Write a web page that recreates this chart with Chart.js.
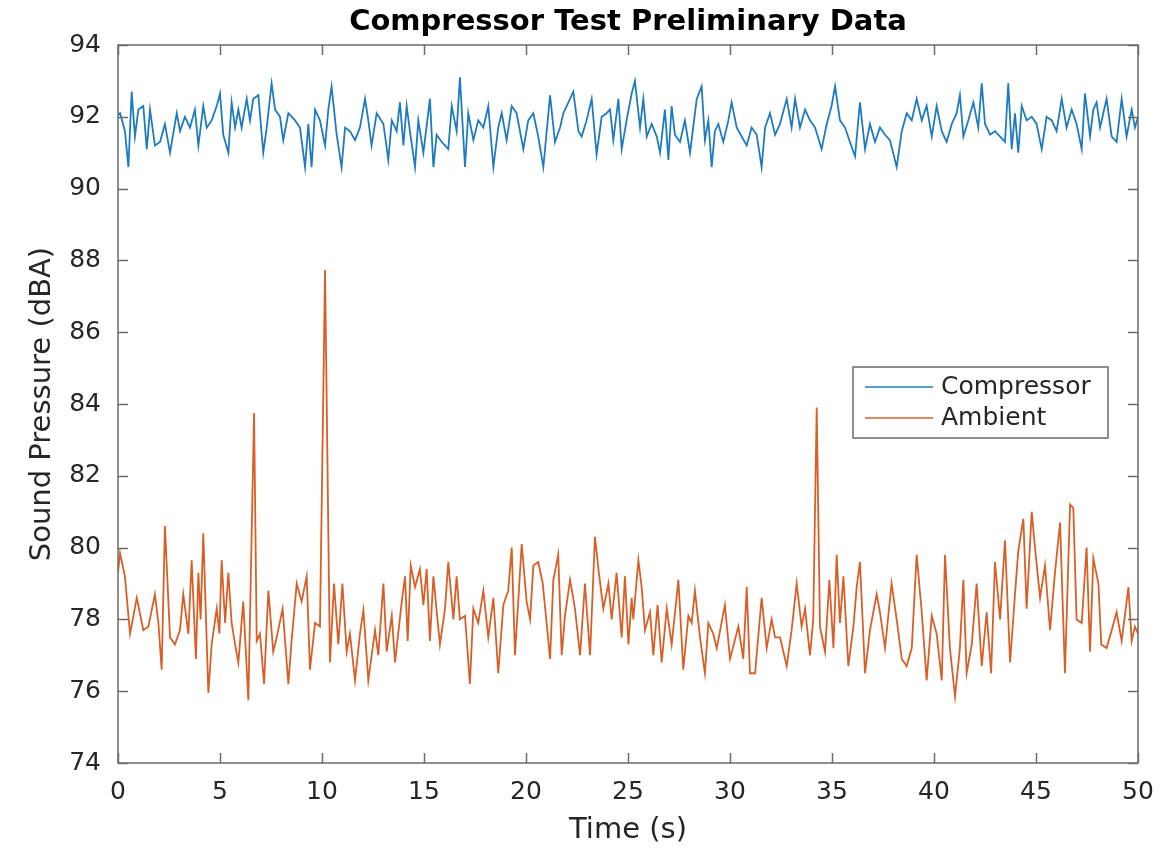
<!DOCTYPE html>
<html>
<head>
<meta charset="utf-8">
<title>Compressor Test Preliminary Data</title>
<script src="https://cdn.jsdelivr.net/npm/chart.js@4"></script>
<style>
  html, body { margin: 0; padding: 0; background: #fff; }
  #wrap { width: 1168px; height: 851px; }
</style>
</head>
<body>
<div id="wrap"><canvas id="chart" width="1168" height="851"></canvas></div>
<script>
// Data
const chartTitle = 'Compressor Test Preliminary Data';
const timeTicks = [0, 5, 10, 15, 20, 25, 30, 35, 40, 45, 50];
const pressureTicks = [74, 76, 78, 80, 82, 84, 86, 88, 90, 92, 94];

const compressorTime = [
    0, 0.10, 0.34, 0.51, 0.67, 0.83, 1.00, 1.24, 1.41, 1.57,
    1.81, 2.06, 2.30, 2.55, 2.88, 3.04, 3.28, 3.53, 3.77, 3.94,
    4.18, 4.35, 4.59, 4.84, 5.00, 5.16, 5.41, 5.57, 5.74, 5.90,
    6.06, 6.31, 6.47, 6.63, 6.88, 7.12, 7.29, 7.53, 7.70, 7.94,
    8.10, 8.35, 8.68, 8.92, 9.17, 9.33, 9.49, 9.66, 9.90, 10.15,
    10.31, 10.47, 10.72, 10.96, 11.13, 11.37, 11.62, 11.86, 12.11, 12.27,
    12.43, 12.68, 13.01, 13.25, 13.42, 13.66, 13.82, 13.99, 14.15, 14.31,
    14.56, 14.72, 14.97, 15.29, 15.46, 15.62, 15.87, 16.19, 16.36, 16.60,
    16.76, 17.01, 17.17, 17.42, 17.66, 17.91, 18.15, 18.40, 18.64, 18.81,
    19.05, 19.30, 19.54, 19.87, 20.11, 20.36, 20.60, 20.85, 21.18, 21.42,
    21.67, 21.83, 22.08, 22.32, 22.57, 22.73, 22.97, 23.22, 23.46, 23.71,
    23.95, 24.12, 24.28, 24.53, 24.69, 24.93, 25.18, 25.34, 25.59, 25.75,
    25.92, 26.16, 26.41, 26.57, 26.81, 26.98, 27.14, 27.30, 27.55, 27.79,
    28.04, 28.37, 28.61, 28.77, 28.94, 29.10, 29.26, 29.43, 29.67, 29.92,
    30.08, 30.33, 30.57, 30.82, 31.06, 31.31, 31.55, 31.72, 31.96, 32.21,
    32.45, 32.78, 33.02, 33.19, 33.43, 33.68, 33.92, 34.17, 34.49, 34.74,
    34.98, 35.15, 35.39, 35.64, 35.88, 36.13, 36.37, 36.62, 36.86, 37.11,
    37.35, 37.60, 37.84, 38.17, 38.42, 38.66, 38.91, 39.15, 39.40, 39.64,
    39.89, 40.13, 40.38, 40.62, 40.87, 41.11, 41.27, 41.44, 41.68, 41.93,
    42.17, 42.34, 42.50, 42.75, 42.99, 43.24, 43.48, 43.64, 43.81, 43.97,
    44.13, 44.30, 44.54, 44.79, 45.03, 45.28, 45.52, 45.77, 46.01, 46.26,
    46.50, 46.75, 46.99, 47.24, 47.40, 47.65, 47.81, 47.97, 48.14, 48.46,
    48.71, 48.95, 49.20, 49.44, 49.69, 49.85, 50.00
];
const compressorLevel = [
    92.05, 92.1, 91.6, 90.6, 92.7, 91.45, 92.2, 92.3, 91.1, 92.2,
    91.2, 91.3, 91.8, 91.0, 92.1, 91.6, 92.0, 91.7, 92.2, 91.2,
    92.3, 91.7, 91.9, 92.3, 92.65, 91.5, 91.0, 92.4, 91.7, 92.2,
    91.7, 92.5, 91.9, 92.5, 92.6, 91.0, 91.7, 92.93, 92.2, 92.0,
    91.35, 92.1, 91.9, 91.7, 90.6, 91.8, 90.6, 92.2, 91.9, 91.2,
    92.2, 92.84, 91.5, 90.6, 91.7, 91.6, 91.35, 91.7, 92.5, 91.9,
    91.2, 92.1, 91.8, 90.8, 91.9, 91.6, 92.4, 91.2, 92.3, 91.6,
    90.6, 91.9, 91.0, 92.5, 90.6, 91.5, 91.3, 91.1, 92.3, 91.6,
    93.1, 90.6, 92.1, 91.35, 91.9, 91.7, 92.3, 90.6, 91.7, 92.1,
    91.35, 92.3, 92.1, 91.1, 91.9, 92.1, 91.45, 90.6, 92.6, 91.3,
    91.7, 92.1, 92.4, 92.7, 91.6, 91.45, 91.9, 92.5, 90.95, 92.0,
    92.1, 92.2, 91.35, 92.5, 91.1, 91.9, 92.65, 93.0, 91.7, 92.5,
    91.45, 91.8, 91.45, 91.0, 92.2, 90.8, 92.3, 91.5, 91.3, 91.9,
    91.0, 92.5, 92.85, 91.35, 91.9, 90.6, 91.6, 91.8, 91.3, 91.9,
    92.4, 91.7, 91.45, 91.2, 91.7, 91.5, 90.6, 91.7, 92.1, 91.5,
    91.8, 92.5, 91.7, 92.5, 91.7, 92.2, 91.9, 91.7, 91.1, 91.8,
    92.3, 92.85, 91.9, 91.7, 91.3, 90.9, 92.4, 91.1, 91.8, 91.3,
    91.7, 91.5, 91.35, 90.6, 91.6, 92.1, 91.9, 92.5, 91.9, 92.3,
    91.45, 92.3, 91.6, 91.3, 91.8, 92.1, 92.6, 91.45, 91.9, 92.4,
    91.7, 92.93, 91.8, 91.5, 91.6, 91.45, 91.3, 92.93, 91.1, 92.1,
    91.0, 92.3, 91.9, 92.0, 91.8, 91.1, 92.0, 91.9, 91.6, 92.5,
    91.7, 92.2, 91.8, 91.1, 92.65, 91.45, 92.2, 92.4, 91.7, 92.5,
    91.45, 91.3, 92.5, 91.45, 92.2, 91.7, 92.0
];

const ambientTime = [
    0, 0.10, 0.34, 0.59, 0.92, 1.24, 1.49, 1.81, 1.98, 2.14,
    2.30, 2.55, 2.79, 3.04, 3.20, 3.45, 3.61, 3.82, 3.94, 4.05,
    4.18, 4.43, 4.59, 4.84, 4.97, 5.08, 5.25, 5.41, 5.57, 5.74,
    5.90, 6.14, 6.39, 6.67, 6.80, 6.96, 7.16, 7.37, 7.61, 7.78,
    8.07, 8.35, 8.51, 8.76, 9.00, 9.25, 9.41, 9.66, 9.90, 10.15,
    10.39, 10.59, 10.80, 11.00, 11.21, 11.37, 11.62, 11.86, 12.03, 12.27,
    12.60, 12.76, 13.01, 13.17, 13.42, 13.58, 13.91, 14.07, 14.20, 14.35,
    14.56, 14.80, 14.97, 15.13, 15.29, 15.46, 15.78, 16.03, 16.19, 16.44,
    16.60, 16.76, 17.01, 17.25, 17.42, 17.66, 17.91, 18.15, 18.40, 18.64,
    18.89, 19.13, 19.30, 19.46, 19.79, 20.03, 20.20, 20.36, 20.60, 20.82,
    21.01, 21.18, 21.34, 21.58, 21.75, 21.91, 22.16, 22.40, 22.65, 22.89,
    23.14, 23.38, 23.55, 23.79, 24.04, 24.20, 24.44, 24.69, 24.85, 25.02,
    25.18, 25.26, 25.51, 25.67, 25.83, 26.08, 26.24, 26.45, 26.65, 26.90,
    27.14, 27.47, 27.71, 27.96, 28.12, 28.28, 28.53, 28.77, 28.94, 29.18,
    29.35, 29.75, 30.00, 30.41, 30.65, 30.82, 30.98, 31.23, 31.55, 31.80,
    32.04, 32.21, 32.45, 32.78, 33.02, 33.27, 33.51, 33.68, 33.92, 34.08,
    34.25, 34.41, 34.66, 34.87, 35.07, 35.23, 35.39, 35.56, 35.80, 36.05,
    36.21, 36.37, 36.62, 36.86, 37.19, 37.35, 37.60, 37.92, 38.17, 38.42,
    38.66, 38.91, 39.15, 39.40, 39.64, 39.89, 40.13, 40.38, 40.54, 40.78,
    41.03, 41.27, 41.44, 41.60, 41.85, 42.09, 42.34, 42.58, 42.80, 42.99,
    43.24, 43.48, 43.73, 43.97, 44.13, 44.38, 44.54, 44.79, 44.95, 45.20,
    45.44, 45.69, 45.93, 46.18, 46.42, 46.67, 46.83, 46.99, 47.24, 47.48,
    47.65, 47.81, 48.06, 48.20, 48.46, 48.71, 48.95, 49.20, 49.53, 49.69,
    49.85, 50.00
];
const ambientLevel = [
    79.3, 79.85, 79.2, 77.6, 78.6, 77.7, 77.8, 78.7, 77.9, 76.6,
    80.6, 77.5, 77.3, 77.7, 78.7, 77.6, 79.65, 76.9, 79.3, 78.0,
    80.4, 75.95, 77.3, 78.3, 77.6, 79.65, 77.9, 79.3, 77.9, 77.3,
    76.8, 78.5, 75.75, 83.75, 77.4, 77.6, 76.2, 78.8, 77.1, 77.5,
    78.3, 76.2, 77.4, 79.0, 78.5, 79.2, 76.6, 77.9, 77.8, 87.73,
    76.8, 79.0, 77.3, 79.0, 77.1, 77.6, 76.3, 77.6, 78.26, 76.3,
    77.7, 77.0, 79.0, 77.1, 78.1, 76.8, 78.5, 79.2, 77.4, 79.5,
    78.9, 79.4, 78.4, 79.4, 77.4, 79.2, 77.3, 78.3, 79.6, 78.0,
    79.2, 78.0, 78.1, 76.2, 78.3, 77.9, 78.8, 77.5, 78.6, 76.5,
    78.4, 78.8, 80.0, 77.0, 80.1, 78.5, 78.0, 79.5, 79.6, 79.0,
    77.9, 76.9, 79.1, 79.8, 77.0, 78.1, 79.1, 78.3, 77.0, 79.0,
    77.0, 80.3, 79.4, 78.3, 79.0, 78.0, 79.3, 77.5, 79.2, 77.3,
    78.6, 78.0, 79.65, 78.9, 77.7, 78.2, 77.0, 78.4, 76.8, 78.3,
    77.3, 79.1, 76.6, 78.1, 77.9, 78.8, 77.5, 76.5, 77.9, 77.6,
    77.2, 78.4, 76.9, 77.8, 76.9, 78.9, 76.5, 76.5, 78.6, 77.2,
    78.0, 77.5, 77.5, 76.7, 77.7, 79.0, 77.8, 78.3, 77.0, 78.0,
    83.9, 77.8, 77.1, 79.1, 77.2, 79.8, 77.9, 79.2, 76.7, 77.8,
    78.9, 79.6, 76.5, 77.7, 78.7, 78.2, 77.2, 79.0, 78.0, 76.9,
    76.7, 77.2, 79.8, 78.2, 76.3, 78.1, 77.6, 76.3, 79.8, 77.2,
    75.85, 77.2, 79.1, 76.5, 77.3, 79.0, 76.7, 78.2, 76.5, 79.6,
    78.0, 80.2, 76.8, 78.7, 79.9, 80.8, 78.3, 81.0, 80.0, 78.6,
    79.5, 77.7, 79.3, 80.7, 76.5, 81.2, 81.1, 78.0, 77.9, 80.0,
    77.1, 79.7, 79.0, 77.3, 77.2, 77.7, 78.2, 77.4, 78.9, 77.4,
    77.8, 77.6
];

// Styling
const fontFamily = "'DejaVu Sans', 'Liberation Sans', sans-serif";
const textColor = '#262626';
const axisColor = '#6b6b6b';
const compressorColor = '#1f7bbf';
const ambientColor = '#d95f26';
const tickLen = 10;

function toPoints(times, levels) {
    return times.map((t, i) => ({ x: t, y: levels[i] }));
}

// MATLAB-style box with inward ticks on all four sides, title over the axes, legend
const matlabAxes = {
    id: 'matlabAxes',
    afterDatasetsDraw(chart) {
        const { ctx, chartArea: a, scales: { x, y } } = chart;
        ctx.save();
        ctx.strokeStyle = axisColor;
        ctx.lineWidth = 1.5;
        ctx.strokeRect(a.left, a.top, a.right - a.left, a.bottom - a.top);

        ctx.beginPath();
        timeTicks.forEach(t => {
            const px = Math.round(x.getPixelForValue(t)) + 0.5;
            ctx.moveTo(px, a.bottom); ctx.lineTo(px, a.bottom - tickLen);
            ctx.moveTo(px, a.top); ctx.lineTo(px, a.top + tickLen);
        });
        pressureTicks.forEach(v => {
            const py = Math.round(y.getPixelForValue(v)) + 0.5;
            ctx.moveTo(a.left, py); ctx.lineTo(a.left + tickLen, py);
            ctx.moveTo(a.right, py); ctx.lineTo(a.right - tickLen, py);
        });
        ctx.stroke();

        // title, centred over the axes like MATLAB does
        ctx.fillStyle = '#000';
        ctx.font = 'bold 29px ' + fontFamily;
        ctx.textAlign = 'center';
        ctx.textBaseline = 'middle';
        ctx.fillText(chartTitle, (a.left + a.right) / 2, 22);

        // legend box
        const boxLeft = a.right - 285, boxTop = a.top + 322;
        const boxW = 255, boxH = 71;
        ctx.fillStyle = '#fff';
        ctx.fillRect(boxLeft, boxTop, boxW, boxH);
        ctx.lineWidth = 1.5;
        ctx.strokeStyle = axisColor;
        ctx.strokeRect(boxLeft, boxTop, boxW, boxH);

        ctx.font = '25px ' + fontFamily;
        ctx.textBaseline = 'middle';
        ctx.textAlign = 'left';
        chart.data.datasets.forEach((ds, i) => {
            const ly = boxTop + 20 + i * 31;
            ctx.strokeStyle = ds.borderColor;
            ctx.lineWidth = 1.6;
            ctx.beginPath();
            ctx.moveTo(boxLeft + 12, ly);
            ctx.lineTo(boxLeft + 80, ly);
            ctx.stroke();
            ctx.fillStyle = textColor;
            ctx.fillText(ds.label, boxLeft + 88, ly);
        });
        ctx.restore();
    }
};

const chart = new Chart(document.getElementById('chart'), {
    type: 'line',
    data: {
        datasets: [
            {
                label: 'Compressor',
                data: toPoints(compressorTime, compressorLevel),
                borderColor: compressorColor,
                borderWidth: 1.8,
                pointRadius: 0,
                tension: 0,
                fill: false
            },
            {
                label: 'Ambient',
                data: toPoints(ambientTime, ambientLevel),
                borderColor: ambientColor,
                borderWidth: 1.8,
                pointRadius: 0,
                tension: 0,
                fill: false
            }
        ]
    },
    options: {
        responsive: false,
        animation: false,
        devicePixelRatio: 1,
        layout: { padding: { left: 0, right: 30, top: 45, bottom: 0 } },
        plugins: {
            legend: { display: false },
            tooltip: { enabled: false },
            title: { display: false }
        },
        scales: {
            x: {
                type: 'linear',
                min: 0,
                max: 50,
                afterBuildTicks: s => { s.ticks = timeTicks.map(v => ({ value: v })); },
                afterFit: s => { s.height = 88; },
                grid: { display: false, drawTicks: false },
                border: { display: false },
                ticks: {
                    color: textColor,
                    padding: 14,
                    maxRotation: 0,
                    font: { family: fontFamily, size: 25, lineHeight: 1.2 }
                },
                title: {
                    display: true,
                    text: 'Time (s)',
                    color: textColor,
                    font: { family: fontFamily, size: 29, lineHeight: 1.2 },
                    padding: { top: 0, bottom: 3 }
                }
            },
            y: {
                type: 'linear',
                min: 74,
                max: 94,
                afterBuildTicks: s => { s.ticks = pressureTicks.map(v => ({ value: v })); },
                afterFit: s => { s.width = 118; },
                grid: { display: false, drawTicks: false },
                border: { display: false },
                ticks: {
                    color: textColor,
                    padding: 17,
                    font: { family: fontFamily, size: 25, lineHeight: 1.2 }
                },
                title: {
                    display: true,
                    text: 'Sound Pressure (dBA)',
                    color: textColor,
                    font: { family: fontFamily, size: 29, lineHeight: 1.2 },
                    padding: { top: 25, bottom: 0 }
                }
            }
        }
    },
    plugins: [matlabAxes]
});
</script>
</body>
</html>
